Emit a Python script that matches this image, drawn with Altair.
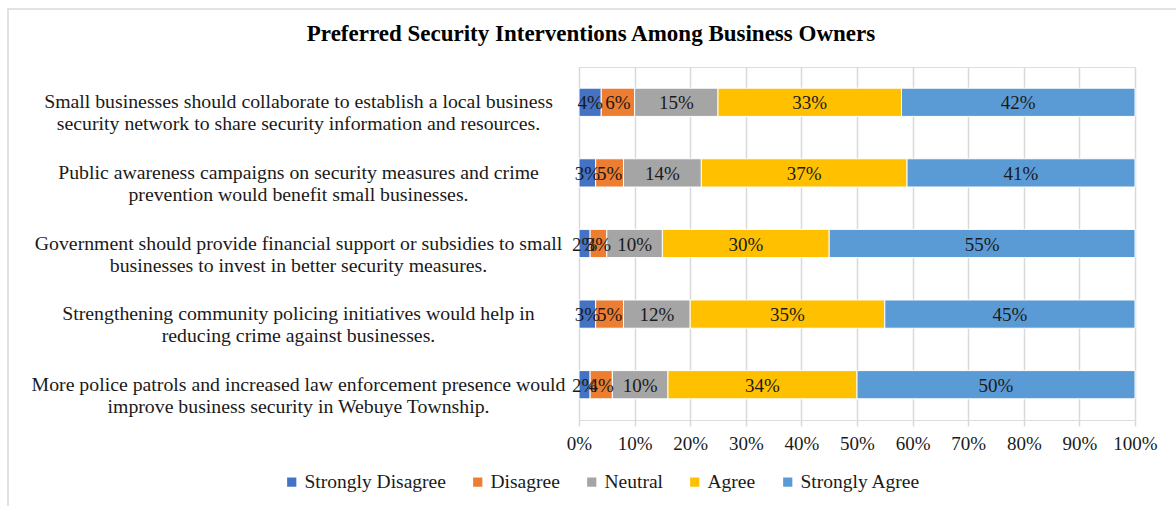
import altair as alt
import pandas as pd

title_text = "Preferred Security Interventions Among Business Owners"
statements = [
    "Small businesses should collaborate to establish a local business|security network to share security information and resources.",
    "Public awareness campaigns on security measures and crime|prevention would benefit small businesses.",
    "Government should provide financial support or subsidies to small|businesses to invest in better security measures.",
    "Strengthening community policing initiatives would help in|reducing crime against businesses.",
    "More police patrols and increased law enforcement presence would|improve business security in Webuye Township.",
]
levels = ["Strongly Disagree", "Disagree", "Neutral", "Agree", "Strongly Agree"]
colors = ["#4472C4", "#ED7D31", "#A5A5A5", "#FFC000", "#5B9BD5"]

strongly_disagree = [4, 3, 2, 3, 2]
disagree = [6, 5, 3, 5, 4]
neutral = [15, 14, 10, 12, 10]
agree = [33, 37, 30, 35, 34]
strongly_agree = [42, 41, 55, 45, 50]

series = [strongly_disagree, disagree, neutral, agree, strongly_agree]
rows = []
for li, (lvl, vals) in enumerate(zip(levels, series)):
    for si, s in enumerate(statements):
        rows.append({"statement": s, "level": lvl, "order": li, "value": vals[si]})
df = pd.DataFrame(rows)

FONT = "Liberation Serif"

base = alt.Chart(df).transform_stack(
    stack="value", groupby=["statement"], as_=["x0", "x1"],
    sort=[alt.SortField("order", order="ascending")],
).transform_calculate(mid="(datum.x0 + datum.x1) / 2")

y_enc = alt.Y(
    "statement:N", sort=statements, title=None,
    scale=alt.Scale(paddingInner=0.6, paddingOuter=0.3),
    axis=alt.Axis(
        labelExpr="split(datum.label, '|')", labelAlign="center",
        labelPadding=281, ticks=False, domain=False, labelFont=FONT,
        labelFontSize=19.8, labelColor="#1a1a1a", labelLineHeight=22,
        labelLimit=700,
    ),
)

bars = base.mark_bar(stroke="white", strokeWidth=1).encode(
    x=alt.X(
        "x0:Q", title=None,
        scale=alt.Scale(domain=[0, 100], nice=False),
        axis=alt.Axis(
            values=list(range(0, 101, 10)), labelExpr="datum.value + '%'",
            labelOverlap=False, labelFlush=False,
            grid=True, gridColor="#D9D9D9", gridWidth=1.5, domain=False,
            tickColor="#D9D9D9", tickSize=6, tickWidth=1.5,
            labelFont=FONT, labelFontSize=19, labelColor="#1a1a1a",
            labelPadding=8,
        ),
    ),
    x2="x1:Q",
    y=y_enc,
    color=alt.Color(
        "level:N", sort=levels,
        scale=alt.Scale(domain=levels, range=colors),
        legend=alt.Legend(
            title=None, orient="none", direction="horizontal",
            legendX=-297, legendY=405, symbolType="square", symbolSize=85,
            symbolStrokeWidth=0, labelFont=FONT, labelFontSize=19.5,
            labelColor="#1a1a1a", columnPadding=22, labelOffset=3,
        ),
    ),
)

labels = base.mark_text(font=FONT, fontSize=19, color="#1a1a1a", baseline="middle", dy=1).encode(
    x=alt.X("mid:Q"),
    y=alt.Y("statement:N", sort=statements),
    text=alt.Text("label:N"),
).transform_calculate(label="datum.value + '%'")

frame = alt.Chart(pd.DataFrame({"a": [0]})).mark_rect(
    fill=None, stroke="#D9D9D9", strokeWidth=1.5
).encode(
    x=alt.value(-571), x2=alt.value(640), y=alt.value(-58), y2=alt.value(480)
)

title = alt.Chart(pd.DataFrame({"t": [title_text]})).mark_text(
    font=FONT, fontSize=23, fontWeight="bold", color="#000000",
    align="center", baseline="alphabetic",
).encode(x=alt.value(12), y=alt.value(-26), text="t:N")

chart = alt.layer(frame, bars, labels, title).properties(
    width=556, height=353,
    autosize=alt.AutoSizeParams(type="none"),
    padding={"left": 579, "top": 67, "right": 41, "bottom": 86},
).configure_view(stroke=None).configure(background="white")

chart.save("out.html", embed_options={"renderer": "svg", "actions": False})
